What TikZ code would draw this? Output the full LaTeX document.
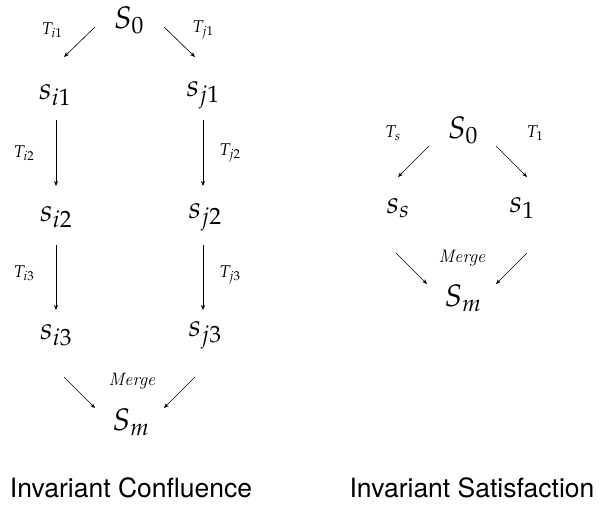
\documentclass[tikz,border=0pt]{standalone}
\usepackage{mathpazo}
\usepackage{fontspec}
\newfontfamily\titlefont{TeX Gyre Heros}
\usetikzlibrary{arrows.meta}
\begin{document}
\begin{tikzpicture}[x=1pt,y=-1pt,
  arr/.style={-{Stealth[length=5pt,width=4pt]},line width=0.6pt},
  st/.style={inner sep=0pt,font=\fontsize{31}{33}\selectfont},
  lab/.style={inner sep=0pt,font=\fontsize{17}{18}\selectfont},
  mrg/.style={inner sep=0pt,font=\fontsize{18}{19}\selectfont\itshape},
  ttl/.style={inner sep=0pt,font=\titlefont\fontsize{26.5}{28}\selectfont}]
\useasboundingbox (0,0) rectangle (603,504);
% left diagram
\node[st] (S0L) at (129,20) {$S_0$};
\node[st] (si1) at (55,95) {$s_{i1}$};
\node[st] (sj1) at (203,95) {$s_{j1}$};
\node[st] (si2) at (56,217) {$s_{i2}$};
\node[st] (sj2) at (205,217) {$s_{j2}$};
\node[st] (si3) at (56,335) {$s_{i3}$};
\node[st] (sj3) at (205,335) {$s_{j3}$};
\node[st] (SmL) at (131,422) {$S_m$};
\node[lab] (Ti1) at (52,30) {$T_{i1}$};
\node[lab] (Tj1) at (203,30) {$T_{j1}$};
\node[lab] (Ti2) at (24,153) {$T_{i2}$};
\node[lab] (Tj2) at (230,153) {$T_{j2}$};
\node[lab] (Ti3) at (24,273) {$T_{i3}$};
\node[lab] (Tj3) at (230,275) {$T_{j3}$};
\node[mrg] (MergeL) at (132,381) {Merge};
\draw[arr] ([shift={(-34,7)}]S0L.center) -- ([shift={(9,-38)}]si1.center);
\draw[arr] ([shift={(35,7)}]S0L.center) -- ([shift={(-8,-38)}]sj1.center);
\draw[arr] ([shift={(1,25)}]si1.center) -- ([shift={(0,-31)}]si2.center);
\draw[arr] ([shift={(0,25)}]sj1.center) -- ([shift={(-2,-31)}]sj2.center);
\draw[arr] ([shift={(0,28)}]si2.center) -- ([shift={(0,-25)}]si3.center);
\draw[arr] ([shift={(-2,28)}]sj2.center) -- ([shift={(-2,-25)}]sj3.center);
\draw[arr] ([shift={(8,42)}]si3.center) -- ([shift={(-36,-14)}]SmL.center);
\draw[arr] ([shift={(-10,42)}]sj3.center) -- ([shift={(33,-14)}]SmL.center);
% right diagram
\node[st] (S0R) at (463,130) {$S_0$};
\node[st] (ss) at (398,208) {$s_s$};
\node[st] (s1) at (522,208) {$s_1$};
\node[st] (SmR) at (463,298) {$S_m$};
\node[lab] (Ts) at (393,133) {$T_s$};
\node[lab] (T1) at (535,133) {$T_1$};
\node[mrg] (MergeR) at (462,258) {Merge};
\draw[arr] ([shift={(-34,16)}]S0R.center) -- ([shift={(0,-31)}]ss.center);
\draw[arr] ([shift={(33,16)}]S0R.center) -- ([shift={(5,-31)}]s1.center);
\draw[arr] ([shift={(-2,45)}]ss.center) -- ([shift={(-36,-14)}]SmR.center);
\draw[arr] ([shift={(5,45)}]s1.center) -- ([shift={(33,-14)}]SmR.center);
% titles
\node[ttl] (t1) at (131,488) {Invariant Confluence};
\node[ttl] (t2) at (472,488) {Invariant Satisfaction};
\end{tikzpicture}
\end{document}
